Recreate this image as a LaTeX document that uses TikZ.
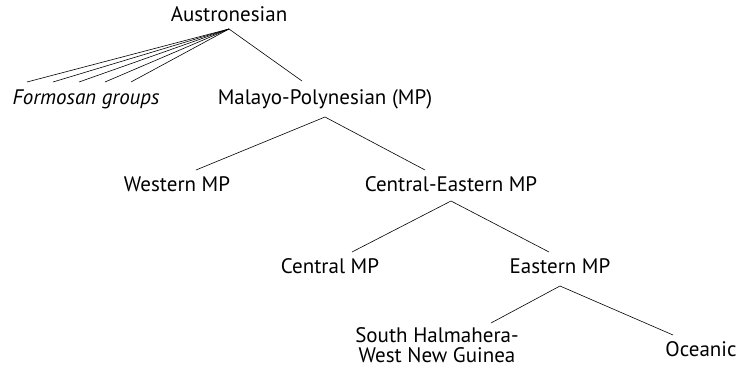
\documentclass[tikz,border=0pt]{standalone}
\usepackage{fontspec}
\setmainfont{PT Sans}
\usetikzlibrary{calc}
\begin{document}
\begin{tikzpicture}[x=1pt,y=-1pt,
  lab/.style={inner sep=0pt,anchor=base,font=\fontsize{21}{23}\selectfont},
  br/.style={line width=0.6pt}]
\useasboundingbox (0,0) rectangle (739,371);
\node[lab] (aus) at (229,22) {Austronesian};
\node[lab,font=\fontsize{21}{23}\selectfont\itshape] (form) at (86,105) {Formosan groups};
\node[lab] (mp) at (325,105) {Malayo-Polynesian (MP)};
\node[lab] (wmp) at (177,192) {Western MP};
\node[lab] (cemp) at (451,192) {Central-Eastern MP};
\node[lab] (cmp) at (330,274) {Central MP};
\node[lab] (emp) at (560,274) {Eastern MP};
\node[lab,anchor=center,align=center,font=\fontsize{21}{20.5}\selectfont] (shwng) at (437,345) {South Halmahera-\\West New Guinea};
\node[lab] (oc) at (701,356) {Oceanic};
% branch points
\coordinate (aus-b) at ($(aus.base)+(0,7)$);
\coordinate (mp-b) at ($(mp.base)+(0,12)$);
\coordinate (cemp-b) at ($(cemp.base)+(0,9)$);
\coordinate (emp-b) at ($(emp.base)+(0,12)$);
% tops
\coordinate (f1) at ($(form.base)+(-59,-23)$);
\coordinate (f2) at ($(form.base)+(-33,-23)$);
\coordinate (f3) at ($(form.base)+(-7,-23)$);
\coordinate (f4) at ($(form.base)+(19,-23)$);
\coordinate (f5) at ($(form.base)+(45,-23)$);
\coordinate (mp-t) at ($(mp.base)+(-23,-24)$);
\coordinate (wmp-t) at ($(wmp.base)+(19,-22)$);
\coordinate (cemp-t) at ($(cemp.base)+(-26,-22)$);
\coordinate (cmp-t) at ($(cmp.base)+(22,-22)$);
\coordinate (emp-t) at ($(emp.base)+(-11,-22)$);
\coordinate (shwng-t) at ($(shwng.center)+(54,-22)$);
\coordinate (oc-t) at ($(oc.base)+(-28,-21)$);
\foreach \c in {f1,f2,f3,f4,f5,mp-t} \draw[br] (aus-b) -- (\c);
\draw[br] (wmp-t) -- (mp-b) -- (cemp-t);
\draw[br] (cmp-t) -- (cemp-b) -- (emp-t);
\draw[br] (shwng-t) -- (emp-b) -- (oc-t);
\end{tikzpicture}
\end{document}
